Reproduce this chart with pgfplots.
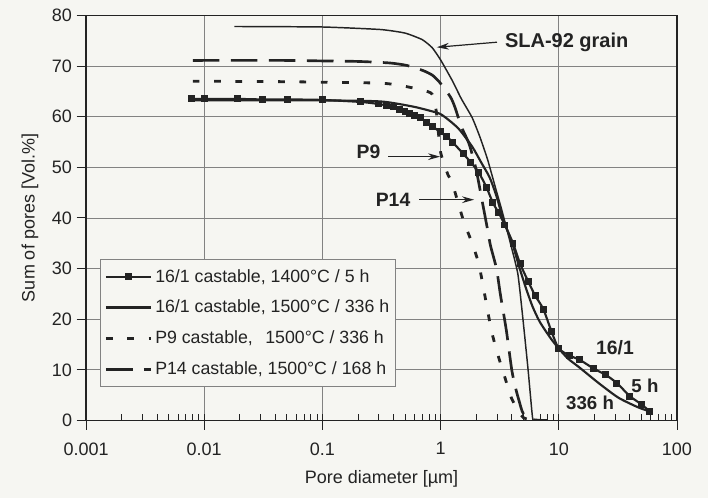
\documentclass[border=0pt]{standalone}
\usepackage{fontspec}
\setmainfont{Liberation Sans}
\usepackage{pgfplots}
\usepackage{pgfplotstable}
\pgfplotsset{compat=1.18}
\usetikzlibrary{arrows.meta}
\definecolor{ink}{RGB}{35,35,35}
\definecolor{bg}{RGB}{246,246,242}
\definecolor{gridc}{RGB}{130,130,130}

\pgfplotstableread{
x y
0.0078 63.5
0.01 63.5
0.019 63.5
0.031 63.4
0.051 63.4
0.1 63.3
0.21 62.9
0.3 62.5
0.35 62.2
0.4 61.9
0.45 61.5
0.5 61.1
0.55 60.7
0.6 60.3
0.67 59.8
0.76 58.9
0.85 58.1
0.99 57.0
1.13 56.0
1.27 54.9
1.55 52.7
1.8 51.0
2.1 49.0
2.45 46.0
2.77 43.0
3.1 41.0
3.5 38.6
4.1 35.0
4.7 31.0
5.5 27.5
6.3 24.7
7.4 22.0
8.7 17.5
10 14.2
12.4 12.8
15 12.0
19.6 10.3
25 9.0
31 7.4
40 4.8
50 3.2
59 1.8
}\hfivetable

\pgfplotstableread{
x y
0.0076 63.2
0.1 63.2
0.31 63.0
0.58 62.0
0.8 61.2
1.0 60.5
1.25 58.8
1.46 57.3
1.86 54.0
2.2 51.0
2.6 48.0
2.95 44.5
3.36 40.0
4.1 34.5
4.6 30.5
5.3 26.0
6.0 22.5
6.9 19.5
8.5 16.3
10 14.2
12 12.2
14.9 10.5
22 7.3
32 4.5
47 2.6
59 1.8
}\hlongtable

\pgfplotstableread{
x y
0.008 67.0
0.05 66.9
0.1 66.8
0.2 66.7
0.32 66.6
0.45 66.2
0.71 65.2
0.85 64.4
0.92 61.0
1.0 53.0
1.16 48.4
1.25 47.0
1.56 39.5
1.85 35.0
2.1 31.0
2.3 26.3
2.69 17.8
3.07 12.8
3.5 8.5
4.0 4.3
5.0 0.6
6.5 0
}\pninetable

\pgfplotstableread{
x y
0.008 71.1
0.05 71.1
0.1 71.0
0.2 70.9
0.37 70.6
0.52 70.1
0.71 69.1
0.85 68.2
0.98 66.8
1.21 63.9
1.32 61.9
1.5 58.0
1.75 54.5
2.0 49.5
2.24 43.5
2.46 38.5
2.64 34.6
2.97 30.0
3.2 25.0
3.6 17.8
4.0 10.0
4.3 6.5
4.6 4.0
5.0 1.4
6.0 0.2
8.0 0
}\pfourteentable

\pgfplotstableread{
x y
0.018 77.8
0.1 77.7
0.31 77.2
0.5 76.5
0.7 75.2
0.85 73.6
1.0 71.2
1.25 67.2
1.5 63.5
1.85 59.8
2.15 56.0
2.5 51.5
2.95 45.5
3.3 41.5
3.8 36.0
4.5 29.0
5.0 19.5
5.5 10.0
6.0 0.5
6.3 0
}\slatable

\begin{document}
\begin{tikzpicture}
\fill[bg] (-64.5pt,-57.75pt) rectangle (466.25pt,315.25pt);
\begin{axis}[
  scale only axis, width=443pt, height=303.75pt,
  xmode=log, xmin=0.001, xmax=100, ymin=0, ymax=80,
  xtick={0.001,0.01,0.1,1,10,100},
  xticklabels={0.001,0.01,0.1,1,10,100},
  ytick={0,10,20,30,40,50,60,70,80},
  grid=major, major grid style={gridc, line width=0.6pt},
  axis line style={ink, line width=0.9pt},
  tick style={ink, line width=0.7pt},
  tick align=outside, major tick length=7pt, minor tick length=5pt,
  minor tick style={yshift=5pt},
  xtick pos=bottom, ytick pos=left,
  /pgf/number format/assume math mode=true,
  tick label style={font=\fontsize{13.5}{16}\selectfont, text=ink},
  xticklabel style={yshift=-6pt},
  label style={font=\fontsize{13.5}{16}\selectfont, text=ink},
  xlabel={Pore diameter [µm]},
  ylabel={Sum of pores [Vol.\%]},
  xlabel style={at={(axis description cs:0.5,-0.1432)}, anchor=center},
  ylabel style={at={(axis description cs:-0.0948,0.5)}, anchor=center},
  legend style={at={(0.0237,0.3975)}, anchor=north west, draw=gridc, line width=0.6pt,
    fill=bg, font=\fontsize{13.3}{15}\selectfont, text=ink, row sep=8pt, inner xsep=3pt, inner ysep=5pt},
  legend cell align=left,
  legend image code/.code={\draw[mark repeat=2,mark phase=2,#1] plot coordinates {(0pt,0pt) (17pt,0pt) (34pt,0pt)};},
]
\addplot[ink, line width=1.6pt, mark=square*, mark size=1.8pt, mark options={solid}, smooth, tension=0.4] table {\hfivetable};
\addplot[ink, line width=1.6pt, smooth, tension=0.4] table {\hlongtable};
\addplot[ink, line width=2.1pt, dash pattern=on 5pt off 11pt, smooth, tension=0.4] table {\pninetable};
\addplot[ink, line width=2pt, dash pattern=on 20pt off 8.5pt, smooth, tension=0.4] table {\pfourteentable};
\addplot[ink, line width=1.1pt, smooth, tension=0.3, forget plot] table {\slatable};
\legend{{16/1 castable, 1400°C / 5 h},{16/1 castable, 1500°C / 336 h},{P9 castable,\hspace{0.7em}1500°C / 336 h},{P14 castable, 1500°C / 168 h}}

\node[font=\bfseries\fontsize{15}{17}\selectfont, text=ink, anchor=west] at (axis cs:3.2,74.7) {SLA-92 grain};
\draw[ink, line width=0.9pt, -{Stealth[length=9pt,width=5pt]}] (axis cs:3.0,74.7) -- (axis cs:0.93,73.7);
\node[font=\bfseries\fontsize{14.5}{17}\selectfont, text=ink, anchor=east] at (axis cs:0.339,53.0) {P9};
\draw[ink, line width=0.9pt, -{Stealth[length=9pt,width=5pt]}] (axis cs:0.36,52.1) -- (axis cs:0.99,52.1);
\node[font=\bfseries\fontsize{14.5}{17}\selectfont, text=ink, anchor=east] at (axis cs:0.607,43.5) {P14};
\draw[ink, line width=0.9pt, -{Stealth[length=9pt,width=5pt]}] (axis cs:0.66,43.6) -- (axis cs:1.92,43.6);
\node[font=\bfseries\fontsize{14.5}{17}\selectfont, text=ink] at (axis cs:29.9,14.4) {16/1};
\node[font=\bfseries\fontsize{14}{17}\selectfont, text=ink] at (axis cs:53.6,6.9) {5 h};
\node[font=\bfseries\fontsize{14}{17}\selectfont, text=ink] at (axis cs:18.4,3.4) {336 h};
\end{axis}
\pgfresetboundingbox
\path (-64.5pt,-57.75pt) rectangle (466.25pt,315.25pt);
\end{tikzpicture}
\end{document}
